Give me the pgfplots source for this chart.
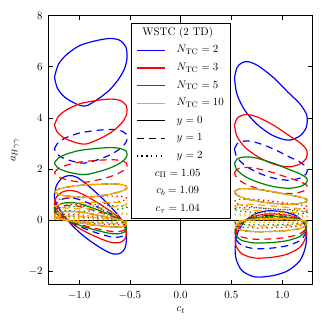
\documentclass[border=0pt,11pt]{standalone}
\usepackage{pgfplots}
\pgfplotsset{compat=1.18}
\usepackage{pgfplotstable}
\definecolor{cb}{rgb}{0,0,1}
\definecolor{cr}{rgb}{1,0,0}
\definecolor{cg}{rgb}{0,0.5,0}
\definecolor{co}{rgb}{1,0.647,0}
\tikzset{dsh/.style={dash pattern=on 7pt off 5pt}, dt/.style={dash pattern=on 1.4pt off 3.4pt}}
% columns: a: N2 y0, b: N2 y1, c: N2 y2 = N5 y1 = N10 y0, d: N3 y0, e: N3 y1, f: N3 y2, g: N5 y0, h: N5 y2, i: N10 y1, j: N10 y2
\pgfplotstableread{
x a b c d e f g h i j
-1.243 5.60 2.80 1.12 3.733 1.867 0.747 2.24 0.448 0.56 0.224
-1.204 6.10 3.05 1.22 4.067 2.033 0.813 2.44 0.488 0.61 0.244
-1.121 6.49 3.245 1.298 4.327 2.163 0.865 2.596 0.519 0.649 0.260
-0.990 6.84 3.42 1.368 4.56 2.28 0.912 2.736 0.547 0.684 0.274
-0.826 7.03 3.515 1.406 4.687 2.343 0.937 2.812 0.562 0.703 0.281
-0.695 7.11 3.555 1.422 4.74 2.37 0.948 2.844 0.569 0.711 0.284
-0.596 7.03 3.515 1.406 4.687 2.343 0.937 2.812 0.562 0.703 0.281
-0.537 6.74 3.37 1.348 4.493 2.247 0.899 2.696 0.539 0.674 0.270
-0.530 6.29 3.145 1.258 4.193 2.097 0.839 2.516 0.503 0.629 0.252
-0.557 5.90 2.95 1.18 3.933 1.967 0.787 2.36 0.472 0.59 0.236
-0.613 5.51 2.755 1.102 3.673 1.837 0.735 2.204 0.441 0.551 0.220
-0.695 5.12 2.56 1.024 3.413 1.707 0.683 2.048 0.410 0.512 0.205
-0.793 4.80 2.40 0.96 3.20 1.60 0.64 1.92 0.384 0.48 0.192
-0.908 4.51 2.255 0.902 3.007 1.503 0.601 1.804 0.361 0.451 0.180
-0.958 4.47 2.235 0.894 2.98 1.49 0.596 1.788 0.358 0.447 0.179
-1.023 4.54 2.27 0.908 3.027 1.513 0.605 1.816 0.363 0.454 0.182
-1.138 4.80 2.40 0.96 3.20 1.60 0.64 1.92 0.384 0.48 0.192
-1.214 5.16 2.58 1.032 3.44 1.72 0.688 2.064 0.413 0.516 0.206
-1.243 5.60 2.80 1.12 3.733 1.867 0.747 2.24 0.448 0.56 0.224
}\LU
\pgfplotstableread{
x a b c d e f g h i j
-1.245 0.95 0.475 0.19 0.633 0.317 0.127 0.38 0.076 0.095 0.038
-1.225 1.35 0.675 0.27 0.9 0.45 0.18 0.54 0.108 0.135 0.054
-1.17 1.65 0.825 0.33 1.1 0.55 0.22 0.66 0.132 0.165 0.066
-1.10 1.75 0.875 0.35 1.167 0.583 0.233 0.70 0.14 0.175 0.07
-1.02 1.68 0.84 0.336 1.12 0.56 0.224 0.672 0.134 0.168 0.067
-0.90 1.32 0.66 0.264 0.88 0.44 0.176 0.528 0.106 0.132 0.053
-0.77 0.85 0.425 0.17 0.567 0.283 0.113 0.34 0.068 0.085 0.034
-0.66 0.40 0.2 0.08 0.267 0.133 0.053 0.16 0.032 0.04 0.016
-0.58 0 0 0 0 0 0 0 0 0 0
-0.54 -0.40 -0.2 -0.08 -0.267 -0.133 -0.053 -0.16 -0.032 -0.04 -0.016
-0.535 -0.80 -0.4 -0.16 -0.533 -0.267 -0.107 -0.32 -0.064 -0.08 -0.032
-0.55 -1.10 -0.55 -0.22 -0.733 -0.367 -0.147 -0.44 -0.088 -0.11 -0.044
-0.59 -1.28 -0.64 -0.256 -0.853 -0.427 -0.171 -0.512 -0.102 -0.128 -0.051
-0.64 -1.32 -0.66 -0.264 -0.88 -0.44 -0.176 -0.528 -0.106 -0.132 -0.053
-0.70 -1.27 -0.635 -0.254 -0.847 -0.423 -0.169 -0.508 -0.102 -0.127 -0.051
-0.82 -1.00 -0.5 -0.2 -0.667 -0.333 -0.133 -0.4 -0.08 -0.1 -0.04
-0.96 -0.60 -0.3 -0.12 -0.4 -0.2 -0.08 -0.24 -0.048 -0.06 -0.024
-1.08 -0.15 -0.075 -0.03 -0.1 -0.05 -0.02 -0.06 -0.012 -0.015 -0.006
-1.17 0.30 0.15 0.06 0.2 0.1 0.04 0.12 0.024 0.03 0.012
-1.225 0.65 0.325 0.13 0.433 0.217 0.087 0.26 0.052 0.065 0.026
-1.245 0.95 0.475 0.19 0.633 0.317 0.127 0.38 0.076 0.095 0.038
}\LL
\pgfplotstableread{
x a b c d e f g h i j
0.530 5.58 2.79 1.116 3.72 1.86 0.744 2.232 0.446 0.558 0.223
0.554 5.97 2.985 1.194 3.98 1.99 0.796 2.388 0.478 0.597 0.239
0.603 6.16 3.08 1.232 4.107 2.053 0.821 2.464 0.493 0.616 0.246
0.668 6.20 3.1 1.24 4.133 2.067 0.827 2.48 0.496 0.62 0.248
0.767 6.03 3.015 1.206 4.02 2.01 0.804 2.412 0.482 0.603 0.241
0.914 5.58 2.79 1.116 3.72 1.86 0.744 2.232 0.446 0.558 0.223
1.062 4.99 2.495 0.998 3.327 1.663 0.665 1.996 0.399 0.499 0.200
1.177 4.54 2.27 0.908 3.027 1.513 0.605 1.816 0.363 0.454 0.182
1.243 4.09 2.045 0.818 2.727 1.363 0.545 1.636 0.327 0.409 0.164
1.236 3.63 1.815 0.726 2.42 1.21 0.484 1.452 0.290 0.363 0.145
1.177 3.31 1.655 0.662 2.207 1.103 0.441 1.324 0.265 0.331 0.132
1.079 3.14 1.57 0.628 2.093 1.047 0.419 1.256 0.251 0.314 0.126
0.997 3.18 1.59 0.636 2.12 1.06 0.424 1.272 0.254 0.318 0.127
0.882 3.37 1.685 0.674 2.247 1.123 0.449 1.348 0.270 0.337 0.135
0.751 3.76 1.88 0.752 2.507 1.253 0.501 1.504 0.301 0.376 0.150
0.635 4.28 2.14 0.856 2.853 1.427 0.571 1.712 0.342 0.428 0.171
0.554 4.93 2.465 0.986 3.287 1.643 0.657 1.972 0.394 0.493 0.197
0.530 5.58 2.79 1.116 3.72 1.86 0.744 2.232 0.446 0.558 0.223
}\RU
\pgfplotstableread{
x a b c d e f g h i j
0.87 0.38 0.19 0.076 0.253 0.127 0.051 0.152 0.030 0.038 0.015
0.75 0.28 0.14 0.056 0.187 0.093 0.037 0.112 0.022 0.028 0.011
0.64 0 0 0 0 0 0 0 0 0 0
0.565 -0.45 -0.225 -0.09 -0.3 -0.15 -0.06 -0.18 -0.036 -0.045 -0.018
0.537 -1.00 -0.5 -0.2 -0.667 -0.333 -0.133 -0.4 -0.08 -0.1 -0.04
0.545 -1.50 -0.75 -0.3 -1.0 -0.5 -0.2 -0.6 -0.12 -0.15 -0.06
0.60 -1.95 -0.975 -0.39 -1.3 -0.65 -0.26 -0.78 -0.156 -0.195 -0.078
0.70 -2.18 -1.09 -0.436 -1.453 -0.727 -0.291 -0.872 -0.174 -0.218 -0.087
0.78 -2.22 -1.11 -0.444 -1.48 -0.74 -0.296 -0.888 -0.178 -0.222 -0.089
0.92 -2.15 -1.075 -0.43 -1.433 -0.717 -0.287 -0.86 -0.172 -0.215 -0.086
1.05 -1.98 -0.99 -0.396 -1.32 -0.66 -0.264 -0.792 -0.158 -0.198 -0.079
1.17 -1.60 -0.8 -0.32 -1.067 -0.533 -0.213 -0.64 -0.128 -0.16 -0.064
1.225 -1.10 -0.55 -0.22 -0.733 -0.367 -0.147 -0.44 -0.088 -0.11 -0.044
1.24 -0.60 -0.3 -0.12 -0.4 -0.2 -0.08 -0.24 -0.048 -0.06 -0.024
1.225 -0.20 -0.1 -0.04 -0.133 -0.067 -0.027 -0.08 -0.016 -0.02 -0.008
1.15 0.15 0.075 0.03 0.1 0.05 0.02 0.06 0.012 0.015 0.006
1.02 0.33 0.165 0.066 0.22 0.11 0.044 0.132 0.026 0.033 0.013
0.87 0.38 0.19 0.076 0.253 0.127 0.051 0.152 0.030 0.038 0.015
}\RL
\newcommand{\curve}[3]{\addplot[#1,line width=1.2pt,smooth,forget plot] table[x=x,y=#3]{#2};}
\newcommand{\four}[2]{\curve{#1}{\LU}{#2}\curve{#1}{\LL}{#2}\curve{#1}{\RU}{#2}\curve{#1}{\RL}{#2}}
\begin{document}
\begin{tikzpicture}
\path[use as bounding box] (-48.7pt,-40.7pt) rectangle (276.3pt,284.3pt);
\begin{axis}[
  at={(0,0)}, anchor=south west, scale only axis,
  width=264pt, height=268.6pt,
  xmin=-1.3, xmax=1.3, ymin=-2.5, ymax=8,
  xtick={-1,-0.5,0,0.5,1}, ytick={-2,0,2,4,6,8},
  xticklabel style={/pgf/number format/fixed, /pgf/number format/fixed zerofill, /pgf/number format/precision=1, yshift=-3pt},
  yticklabel style={xshift=-2.3pt},
  tick align=inside, major tick length=4.5pt,
  every tick/.style={black, line width=0.8pt},
  axis line style={line width=1.2pt},
  xlabel={$c_t$}, ylabel={$a_{H\gamma\gamma}$},
  xlabel style={at={(axis description cs:0.5,-0.0957)}, anchor=center},
  ylabel style={at={(axis description cs:-0.1277,0.5)}, anchor=center},
  legend style={at={(axis cs:0,7.716)}, anchor=north, draw=black, line width=0.8pt, fill=white,
    inner xsep=5pt, inner ysep=3pt, row sep=4.9pt, column sep=10pt,
    nodes={inner xsep=1.5pt, inner ysep=1pt, text height=8pt, text depth=2.7pt}},
  legend cell align=left,
  legend image code/.code={\draw[#1, line width=1.2pt] (0pt,0pt) -- (28pt,0pt);},
]
\addplot[black, line width=1.2pt, forget plot] coordinates {(0,-2.5) (0,8)};
\addplot[black, line width=1.2pt, forget plot] coordinates {(-1.3,0) (1.3,0)};
% N_TC = 2
\four{cb}{a}
\four{cb,dsh}{b}
\four{cb,dt}{c}
% N_TC = 3
\four{cr}{d}
\four{cr,dsh}{e}
\four{cr,dt}{f}
% N_TC = 5
\four{cg}{g}
\four{cg,dsh}{c}
\four{cg,dt}{h}
% N_TC = 10
\four{co}{c}
\four{co,dsh}{i}
\four{co,dt}{j}
\addlegendimage{empty legend}\addlegendentry{\hspace*{1pt}\makebox[0pt][c]{WSTC (2 TD)}}
\addlegendimage{cb}\addlegendentry{$N_{\mathrm{TC}}=2$}
\addlegendimage{cr}\addlegendentry{$N_{\mathrm{TC}}=3$}
\addlegendimage{cg}\addlegendentry{$N_{\mathrm{TC}}=5$}
\addlegendimage{co}\addlegendentry{$N_{\mathrm{TC}}=10$}
\addlegendimage{black}\addlegendentry{$y=0$}
\addlegendimage{black,dsh}\addlegendentry{$y=1$}
\addlegendimage{black,dt}\addlegendentry{$y=2$}
\addlegendimage{empty legend}\addlegendentry{\hspace*{1pt}\makebox[0pt][c]{$c_{\Pi}=1.05$}}
\addlegendimage{empty legend}\addlegendentry{\hspace*{1pt}\makebox[0pt][c]{$c_{b}=1.09$}}
\addlegendimage{empty legend}\addlegendentry{\hspace*{1pt}\makebox[0pt][c]{$c_{\tau}=1.04$}}
\end{axis}
\end{tikzpicture}
\end{document}
